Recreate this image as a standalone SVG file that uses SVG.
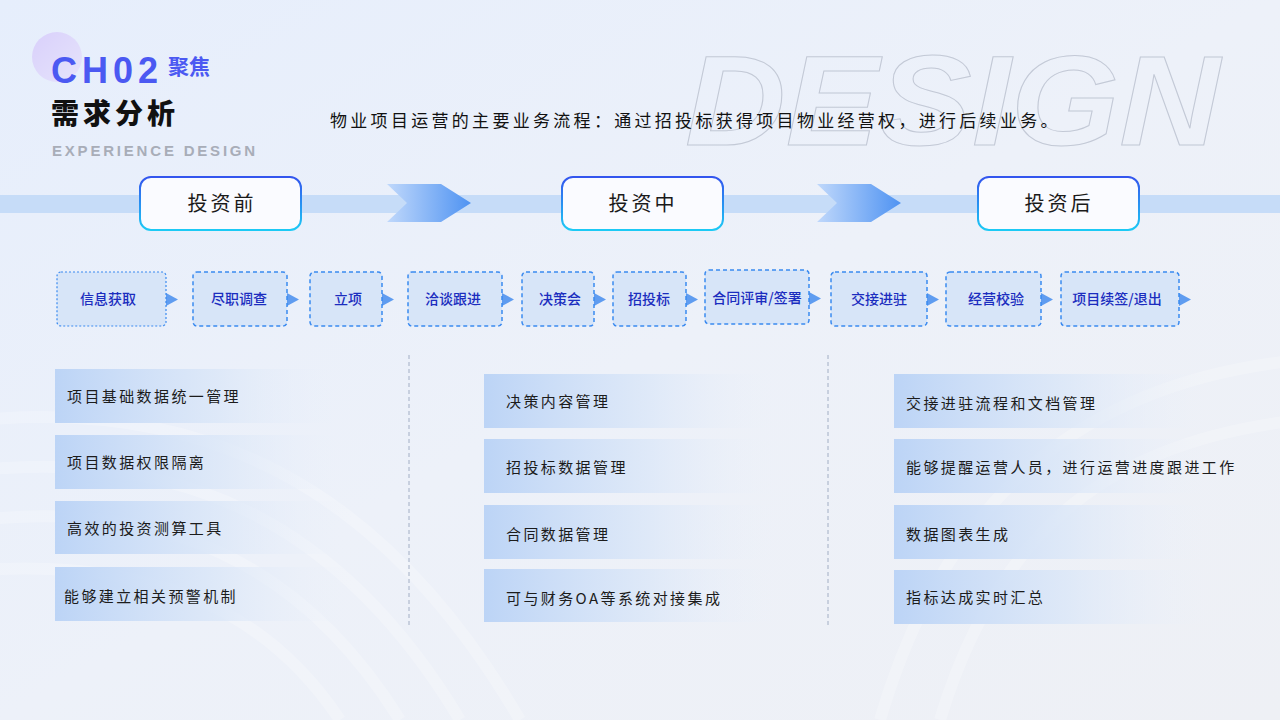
<svg xmlns="http://www.w3.org/2000/svg" width="1280" height="720" viewBox="0 0 1280 720">
<defs>
<linearGradient id="bg" x1="0" y1="0" x2="1" y2="1">
<stop offset="0" stop-color="#e6eefc"/>
<stop offset="0.5" stop-color="#edf1f9"/>
<stop offset="1" stop-color="#eef0f5"/>
</linearGradient>
<linearGradient id="circ" x1="0" y1="0" x2="1" y2="1">
<stop offset="0" stop-color="#d9d0fb"/>
<stop offset="1" stop-color="#e6e4fb"/>
</linearGradient>
<linearGradient id="phaseStroke" x1="0" y1="0" x2="0" y2="1">
<stop offset="0" stop-color="#3355ee"/>
<stop offset="1" stop-color="#1ccaf5"/>
</linearGradient>
<linearGradient id="chev" x1="0" y1="0" x2="1" y2="0">
<stop offset="0" stop-color="#c0d8fb"/>
<stop offset="1" stop-color="#4f93f2"/>
</linearGradient>
<linearGradient id="bar" x1="0" y1="0" x2="1" y2="0">
<stop offset="0" stop-color="#bcd4f6"/>
<stop offset="0.55" stop-color="#dbe7f8" stop-opacity="0.8"/>
<stop offset="1" stop-color="#eef2fa" stop-opacity="0"/>
</linearGradient>
<style>
.step rect{fill:#d7e5f8;stroke:#3a8af0;stroke-width:1.5;stroke-dasharray:4 3}
.step text{font-family:"Noto Sans CJK SC","Noto Sans",sans-serif;font-size:14px;fill:#1b2dbf;text-anchor:middle;font-weight:500}
.tri{fill:#5f9cf0}
.phase rect{fill:#fafbff;stroke:url(#phaseStroke);stroke-width:2}
.phase text{font-family:"Noto Sans CJK SC",sans-serif;font-size:20px;fill:#1a1a1a;text-anchor:middle;letter-spacing:3px}
.item rect{fill:url(#bar)}
.item text{font-family:"Noto Sans CJK SC",sans-serif;font-size:15px;fill:#1c1c1c;letter-spacing:2.4px}
.div{stroke:#a2aec4;stroke-width:1;stroke-dasharray:4 3}
</style>
</defs>
<rect width="1280" height="720" fill="url(#bg)"/>
<g fill="none" stroke="#ffffff" stroke-opacity="0.22" stroke-width="12">
<path d="M-20 420 C 200 400, 380 480, 520 720"/>
<path d="M-20 470 C 180 450, 340 520, 460 720"/>
<path d="M-20 520 C 160 500, 300 560, 400 720"/>
<path d="M-20 570 C 140 560, 260 600, 340 720"/>
<path d="M1300 360 C 1100 380, 950 480, 880 720"/>
<path d="M1300 420 C 1120 440, 1000 520, 940 720"/>
</g>
<g id="header">
<circle cx="57" cy="57" r="25" fill="url(#circ)"/>
<text x="51" y="83" font-family="'Liberation Sans',Arial,sans-serif" font-size="36" font-weight="bold" fill="#4b59f2" letter-spacing="5">CH02</text>
<text x="168" y="74" font-family="'Noto Sans CJK SC',sans-serif" font-size="21" font-weight="bold" fill="#4b59f2">聚焦</text>
<text x="51" y="124" font-family="'Noto Sans CJK SC',sans-serif" font-size="28" font-weight="900" fill="#111" letter-spacing="4">需求分析</text>
<text x="52" y="156" font-family="'Liberation Sans',Arial,sans-serif" font-size="15" font-weight="bold" fill="#a8adb8" letter-spacing="2.8">EXPERIENCE DESIGN</text>
<text x="685" y="145" font-family="'Liberation Sans',Arial,sans-serif" font-size="128" font-weight="900" font-style="italic" fill="none" stroke="#c3c9d6" stroke-width="1" textLength="535" lengthAdjust="spacingAndGlyphs">DESIGN</text>
<text x="330" y="127" font-family="'Noto Sans CJK SC',sans-serif" font-size="17" fill="#111" letter-spacing="3.3">物业项目运营的主要业务流程：通过招投标获得项目物业经营权，进行后续业务。</text>
</g>
<rect x="0" y="195" width="1280" height="18" fill="#c6dcf8"/>
<g id="connectors">
<polygon points="387,184 441,184 471,203 441,222 387,222 407,203" fill="url(#chev)"/>
<polygon points="817,184 871,184 901,203 871,222 817,222 837,203" fill="url(#chev)"/>
<polygon class="tri" points="166,293 178,299.5 166,306"/>
<polygon class="tri" points="287,293 299,299.5 287,306"/>
<polygon class="tri" points="382,293 394,299.5 382,306"/>
<polygon class="tri" points="502,293 514,299.5 502,306"/>
<polygon class="tri" points="594,293 606,299.5 594,306"/>
<polygon class="tri" points="686,293 698,299.5 686,306"/>
<polygon class="tri" points="809,292 821,298.5 809,305"/>
<polygon class="tri" points="927,293 939,299.5 927,306"/>
<polygon class="tri" points="1041,293 1053,299.5 1041,306"/>
<polygon class="tri" points="1179,293 1191,299.5 1179,306"/>
<line class="div" x1="409" y1="355" x2="409" y2="625"/>
<line class="div" x1="828" y1="355" x2="828" y2="625"/>
</g>
<g id="phase1" class="phase"><rect x="140" y="177" width="161" height="53" rx="11"/><text x="222" y="211">投资前</text></g>
<g id="phase2" class="phase"><rect x="562" y="177" width="161" height="53" rx="11"/><text x="643" y="211">投资中</text></g>
<g id="phase3" class="phase"><rect x="978" y="177" width="161" height="53" rx="11"/><text x="1059" y="211">投资后</text></g>
<g id="s1" class="step"><rect x="57" y="272" width="109" height="54" rx="4" style="stroke-dasharray:2 2;stroke-width:1.2"/><text x="108" y="304">信息获取</text></g>
<g id="s2" class="step"><rect x="193" y="272" width="94" height="54" rx="4"/><text x="239" y="304">尽职调查</text></g>
<g id="s3" class="step"><rect x="310" y="272" width="72" height="54" rx="4"/><text x="348" y="304">立项</text></g>
<g id="s4" class="step"><rect x="408" y="272" width="94" height="54" rx="4"/><text x="453" y="304">洽谈跟进</text></g>
<g id="s5" class="step"><rect x="522" y="272" width="72" height="54" rx="4"/><text x="560" y="304">决策会</text></g>
<g id="s6" class="step"><rect x="613" y="272" width="73" height="54" rx="4"/><text x="649" y="304">招投标</text></g>
<g id="s7" class="step"><rect x="705" y="270" width="104" height="54" rx="4"/><text x="757" y="303">合同评审/签署</text></g>
<g id="s8" class="step"><rect x="831" y="272" width="96" height="54" rx="4"/><text x="879" y="304">交接进驻</text></g>
<g id="s9" class="step"><rect x="946" y="272" width="95" height="54" rx="4"/><text x="996" y="304">经营校验</text></g>
<g id="s10" class="step"><rect x="1061" y="272" width="118" height="54" rx="4"/><text x="1117" y="304">项目续签/退出</text></g>
<g id="l1" class="item"><rect x="55" y="369" width="300" height="54"/><text x="67" y="402">项目基础数据统一管理</text></g>
<g id="l2" class="item"><rect x="55" y="435" width="300" height="54"/><text x="67" y="468">项目数据权限隔离</text></g>
<g id="l3" class="item"><rect x="55" y="501" width="300" height="53"/><text x="67" y="534">高效的投资测算工具</text></g>
<g id="l4" class="item"><rect x="55" y="567" width="300" height="54"/><text x="64" y="602">能够建立相关预警机制</text></g>
<g id="m1" class="item"><rect x="484" y="374" width="300" height="54"/><text x="506" y="407">决策内容管理</text></g>
<g id="m2" class="item"><rect x="484" y="439" width="300" height="54"/><text x="506" y="473">招投标数据管理</text></g>
<g id="m3" class="item"><rect x="484" y="505" width="300" height="54"/><text x="506" y="540">合同数据管理</text></g>
<g id="m4" class="item"><rect x="484" y="569" width="300" height="53"/><text x="506" y="604">可与财务OA等系统对接集成</text></g>
<g id="r1" class="item"><rect x="894" y="374" width="320" height="54"/><text x="906" y="409">交接进驻流程和文档管理</text></g>
<g id="r2" class="item"><rect x="894" y="439" width="320" height="54"/><text x="906" y="473">能够提醒运营人员，进行运营进度跟进工作</text></g>
<g id="r3" class="item"><rect x="894" y="505" width="320" height="54"/><text x="906" y="540">数据图表生成</text></g>
<g id="r4" class="item"><rect x="894" y="570" width="320" height="54"/><text x="906" y="603">指标达成实时汇总</text></g>
</svg>
